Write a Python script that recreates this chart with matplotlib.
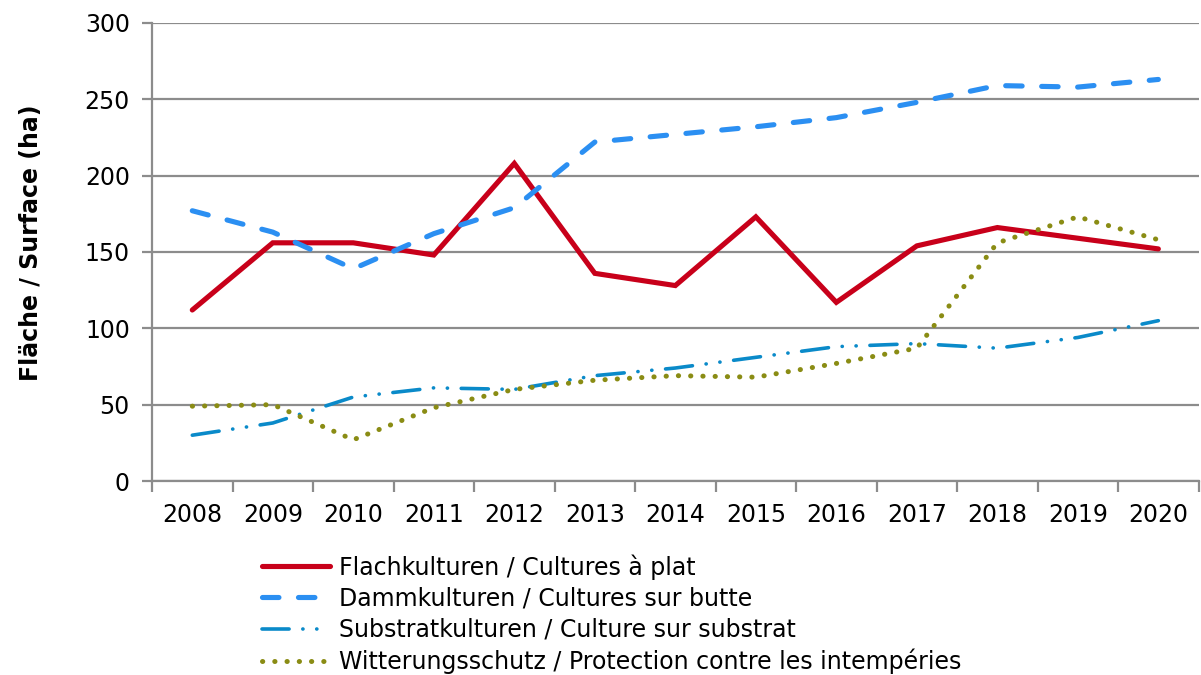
import matplotlib
matplotlib.use("Agg")
import matplotlib.pyplot as plt
from matplotlib.ticker import FixedLocator, NullFormatter

years = ["2008", "2009", "2010", "2011", "2012", "2013", "2014",
         "2015", "2016", "2017", "2018", "2019", "2020"]
flach = [112, 156, 156, 148, 208, 136, 128, 173, 117, 154, 166, 159, 152]
damm = [177, 163, 139, 162, 179, 222, 227, 232, 238, 248, 259, 258, 263]
substrat = [30, 38, 55, 61, 60, 69, 74, 81, 88, 90, 87, 94, 105]
witterung = [49, 50, 27, 48, 60, 66, 69, 68, 77, 87, 156, 173, 158]

labels = ["Flachkulturen / Cultures à plat",
          "Dammkulturen / Cultures sur butte",
          "Substratkulturen / Culture sur substrat",
          "Witterungsschutz / Protection contre les intempéries"]

plt.rcParams['font.family'] = ['DejaVu Sans']

fig = plt.figure(figsize=(12.01, 6.75), dpi=100)
ax = fig.add_axes([0.1266, 0.2874, 0.8714, 0.6786])

x = list(range(len(years)))
grid_c = "#8c8c8c"

ax.plot(x, flach, color="#c8001a", lw=3.7, solid_capstyle="round",
        solid_joinstyle="miter", label=labels[0], zorder=3)
ax.plot(x, damm, color="#2b8ff2", lw=3.7, dashes=(3.2, 3.8),
        dash_capstyle="round", label=labels[1], zorder=3)
ax.plot(x, substrat, color="#0a8ac9", lw=2.6,
        dashes=(7.5, 3.8, 0.05, 3.8, 0.05, 3.8),
        dash_capstyle="round", label=labels[2], zorder=3)
ax.plot(x, witterung, color="#8a8c14", lw=3.6, dashes=(0.05, 2.4),
        dash_capstyle="round", label=labels[3], zorder=3)

ax.set_xlim(-0.5, len(years) - 0.5)
ax.set_ylim(0, 300)
ax.set_yticks(range(0, 301, 50))
ax.yaxis.grid(True, color=grid_c, lw=1.6)
ax.set_axisbelow(True)

ax.xaxis.set_major_locator(FixedLocator([i - 0.5 for i in range(len(years) + 1)]))
ax.xaxis.set_major_formatter(NullFormatter())
ax.xaxis.set_minor_locator(FixedLocator(x))
ax.set_xticklabels(years, minor=True)
ax.tick_params(axis="x", which="major", length=8, width=1.6, color=grid_c, direction="out")
ax.tick_params(axis="x", which="minor", length=0, labelsize=17, pad=16)
ax.tick_params(axis="y", length=7, width=1.6, color=grid_c, labelsize=17, pad=9)

for s in ("top", "right"):
    ax.spines[s].set_visible(False)
for s in ("left", "bottom"):
    ax.spines[s].set_color(grid_c)
    ax.spines[s].set_linewidth(1.6)

ax.set_ylabel("Fläche / Surface (ha)", fontsize=17, fontweight="bold")
ax.yaxis.set_label_coords(-0.104, 0.52)

leg = fig.legend(loc="upper left", bbox_to_anchor=(0.218, 0.179), frameon=False,
                 fontsize=17, handlelength=2.9, handletextpad=0.36,
                 labelspacing=0.3, borderaxespad=0, borderpad=0)

fig.savefig("out.png", dpi=100)
